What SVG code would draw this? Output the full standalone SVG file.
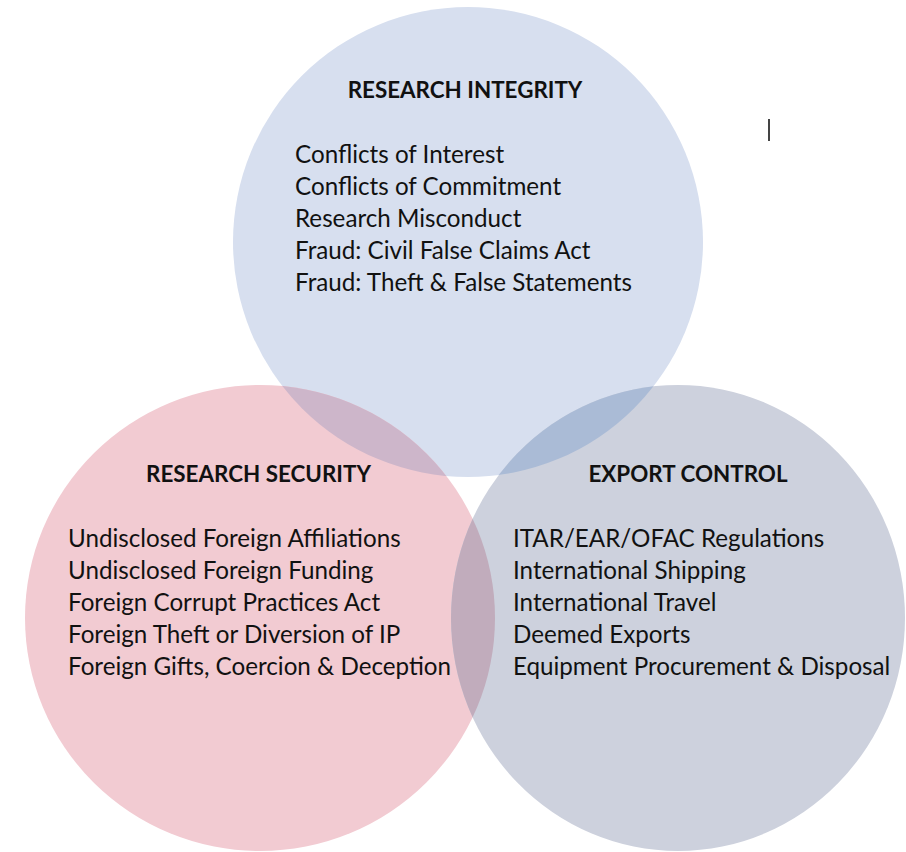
<svg xmlns="http://www.w3.org/2000/svg" width="906" height="852" viewBox="0 0 906 852">
<style>
  .item{font-family:Lato,"Liberation Sans",sans-serif;font-size:24.2px;fill:#111}
  .title{font-family:Lato,"Liberation Sans",sans-serif;font-size:22.4px;font-weight:bold;fill:#111;text-anchor:middle}
</style>
<defs>
  <ellipse id="cTop" cx="468" cy="242" rx="235" ry="235"/>
  <ellipse id="cLeft" cx="260" cy="618" rx="235" ry="233"/>
  <ellipse id="cRight" cx="678" cy="618" rx="227" ry="233"/>
  <clipPath id="clipLeft"><use href="#cLeft"/></clipPath>
  <clipPath id="clipRight"><use href="#cRight"/></clipPath>
</defs>
<rect width="906" height="852" fill="#fff"/>
<g id="research-integrity">
  <use href="#cTop" fill="#D7DFEF"/>
</g>
<g id="research-security">
  <use href="#cLeft" fill="#F2CBD2"/>
</g>
<g id="export-control">
  <use href="#cRight" fill="#CDD1DD"/>
</g>
<g id="overlaps">
  <use href="#cTop" fill="#CDB6CA" clip-path="url(#clipLeft)"/>
  <use href="#cTop" fill="#AABBD6" clip-path="url(#clipRight)"/>
  <use href="#cLeft" fill="#C1ACBC" clip-path="url(#clipRight)"/>
</g>
<g id="labels-integrity">
  <text class="title" x="465" y="98">RESEARCH INTEGRITY</text>
  <text class="item" x="295" y="163">Conflicts of Interest</text>
  <text class="item" x="295" y="195">Conflicts of Commitment</text>
  <text class="item" x="295" y="227">Research Misconduct</text>
  <text class="item" x="295" y="259">Fraud: Civil False Claims Act</text>
  <text class="item" x="295" y="291">Fraud: Theft &amp; False Statements</text>
</g>
<g id="labels-security">
  <text class="title" x="258.5" y="482">RESEARCH SECURITY</text>
  <text class="item" x="68" y="547">Undisclosed Foreign Affiliations</text>
  <text class="item" x="68" y="579">Undisclosed Foreign Funding</text>
  <text class="item" x="68" y="611">Foreign Corrupt Practices Act</text>
  <text class="item" x="68" y="643">Foreign Theft or Diversion of IP</text>
  <text class="item" x="68" y="675">Foreign Gifts, Coercion &amp; Deception</text>
</g>
<g id="labels-export">
  <text class="title" x="688" y="482">EXPORT CONTROL</text>
  <text class="item" x="513" y="547">ITAR/EAR/OFAC Regulations</text>
  <text class="item" x="513" y="579">International Shipping</text>
  <text class="item" x="513" y="611">International Travel</text>
  <text class="item" x="513" y="643">Deemed Exports</text>
  <text class="item" x="513" y="675">Equipment Procurement &amp; Disposal</text>
</g>
<rect x="768" y="119" width="2" height="22" fill="#444"/>
</svg>
